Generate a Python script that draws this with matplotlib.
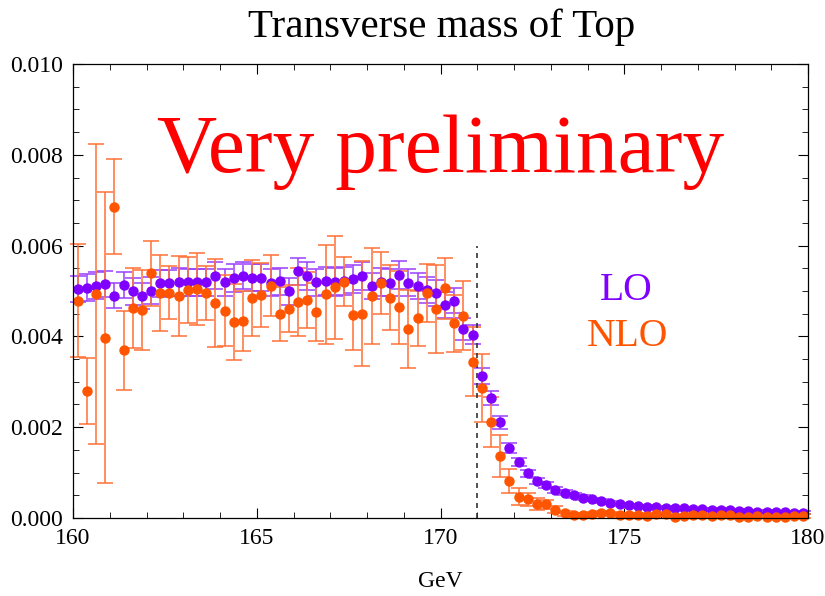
import numpy as np
import matplotlib
matplotlib.use("Agg")
import matplotlib.pyplot as plt

plt.rcParams['font.family'] = ['Liberation Serif', 'DejaVu Serif']

# bin centres, 0.25 GeV bins from 160 to 180
mass = np.arange(160.125, 180.0, 0.25)

lo = [0.00504, 0.00507, 0.00512, 0.00515, 0.00490, 0.00513, 0.00499, 0.00489, 0.00501, 0.00517,
      0.00517, 0.00520, 0.00519, 0.00519, 0.00519, 0.00534, 0.00519, 0.00529, 0.00534, 0.00529,
      0.00529, 0.00518, 0.00521, 0.00499, 0.00543, 0.00533, 0.00519, 0.00522, 0.00520, 0.00522,
      0.00526, 0.00533, 0.00511, 0.00520, 0.00518, 0.00536, 0.00518, 0.00511, 0.00502, 0.00496,
      0.00469, 0.00479, 0.00416, 0.00404, 0.00313, 0.00264, 0.00211, 0.00155, 0.00123, 0.00098,
      0.00082, 0.00073, 0.00062, 0.00056, 0.00050, 0.00045, 0.00041, 0.00037, 0.00034, 0.00030,
      0.00028, 0.00026, 0.00025, 0.00024, 0.00023, 0.00021, 0.00021, 0.00020, 0.00019, 0.00018,
      0.00018, 0.00017, 0.00016, 0.00015, 0.00014, 0.00014, 0.00013, 0.00013, 0.00012, 0.00012]

lo_err = [0.00029, 0.00030, 0.00029, 0.00029, 0.00028, 0.00029, 0.00030, 0.00029, 0.00030, 0.00030,
          0.00029, 0.00030, 0.00030, 0.00030, 0.00029, 0.00030, 0.00030, 0.00031, 0.00030, 0.00030,
          0.00030, 0.00030, 0.00030, 0.00029, 0.00030, 0.00031, 0.00030, 0.00030, 0.00030, 0.00030,
          0.00031, 0.00030, 0.00029, 0.00030, 0.00030, 0.00031, 0.00030, 0.00029, 0.00029, 0.00029,
          0.00028, 0.00028, 0.00025, 0.00020, 0.00018, 0.00016, 0.00014, 0.00011, 0.00009, 0.00008,
          0.00007, 0.00006, 0.00006, 0.00005, 0.00005, 0.00005, 0.00004, 0.00004, 0.00004, 0.00004,
          0.00003, 0.00003, 0.00003, 0.00003, 0.00003, 0.00003, 0.00003, 0.00003, 0.00003, 0.00003,
          0.00003, 0.00003, 0.00003, 0.00003, 0.00003, 0.00003, 0.00003, 0.00003, 0.00003, 0.00003]

nlo = [0.00479, 0.00280, 0.00493, 0.00397, 0.00686, 0.00369, 0.00463, 0.00458, 0.00539, 0.00495,
       0.00496, 0.00488, 0.00502, 0.00504, 0.00495, 0.00474, 0.00457, 0.00432, 0.00434, 0.00484,
       0.00491, 0.00512, 0.00449, 0.00461, 0.00476, 0.00480, 0.00454, 0.00493, 0.00508, 0.00520,
       0.00448, 0.00450, 0.00489, 0.00518, 0.00485, 0.00464, 0.00416, 0.00440, 0.00496, 0.00460,
       0.00506, 0.00429, 0.00446, 0.00344, 0.00287, 0.00212, 0.00137, 0.00081, 0.00047, 0.00041,
       0.00030, 0.00030, 0.00018, 0.00010, 0.00007, 0.00007, 0.00009, 0.00012, 0.00010, 0.00007,
       0.00007, 0.00007, 0.00005, 0.00008, 0.00009, 0.00003, 0.00005, 0.00006, 0.00007, 0.00004,
       0.00006, 0.00006, 0.00002, 0.00003, 0.00004, 0.00003, 0.00002, 0.00003, 0.00005, 0.00004]

nlo_err = [0.00125, 0.00073, 0.00330, 0.00320, 0.00105, 0.00088, 0.00088, 0.00089, 0.00072, 0.00084,
           0.00058, 0.00088, 0.00073, 0.00080, 0.00059, 0.00097, 0.00078, 0.00084, 0.00066, 0.00084,
           0.00071, 0.00068, 0.00059, 0.00052, 0.00075, 0.00061, 0.00064, 0.00109, 0.00114, 0.00054,
           0.00078, 0.00116, 0.00106, 0.00069, 0.00072, 0.00081, 0.00086, 0.00061, 0.00064, 0.00097,
           0.00067, 0.00063, 0.00077, 0.00076, 0.00075, 0.00055, 0.00046, 0.00026, 0.00018, 0.00014,
           0.00013, 0.00010, 0.00008, 0.00006, 0.00004, 0.00004, 0.00004, 0.00004, 0.00004, 0.00004,
           0.00004, 0.00004, 0.00004, 0.00004, 0.00004, 0.00004, 0.00004, 0.00004, 0.00004, 0.00004,
           0.00004, 0.00004, 0.00004, 0.00004, 0.00004, 0.00004, 0.00004, 0.00004, 0.00004, 0.00004]

top_edge = 171.0
edge_height = 0.006

purple = '#8000ff'
orange = '#ff5500'

fig = plt.figure(figsize=(8.25, 5.96), dpi=100)
ax = fig.add_axes([0.0885, 0.1309, 0.8909, 0.7617])

ax.errorbar(mass, lo, yerr=lo_err, fmt='o', color=purple, ms=6.5,
            ecolor='#9a40ff', elinewidth=1.1, capsize=5.5, capthick=1.1, clip_on=False)
ax.errorbar(mass, nlo, yerr=nlo_err, fmt='o', color=orange, ms=6.5,
            ecolor='#ff7035', elinewidth=1.1, capsize=5.5, capthick=1.1, clip_on=False)

ax.vlines(top_edge, 0, edge_height, colors='#333333', linestyles=(0, (3, 3)), lw=1.2)

ax.set_xlim(160, 180)
ax.set_ylim(0, 0.010)
ax.set_xticks([160, 165, 170, 175, 180])
ax.set_xticks(np.arange(160, 181, 1), minor=True)
ax.set_yticks([0.0, 0.002, 0.004, 0.006, 0.008, 0.010])
ax.set_yticks(np.arange(0, 0.0101, 0.0005), minor=True)
ax.set_yticklabels(['0.000', '0.002', '0.004', '0.006', '0.008', '0.010'])
ax.tick_params(which='both', direction='in', top=True, right=True, labelsize=17, pad=7)
ax.tick_params(which='major', length=7)
ax.tick_params(which='minor', length=4)
for s in ax.spines.values():
    s.set_linewidth(0.9)

ax.set_xlabel('GeV', fontsize=17, labelpad=16)
fig.text(0.535, 0.955, 'Transverse mass of Top', fontsize=29.5, ha='center', va='center')

ax.text(0.5, 0.805, 'Very preliminary', transform=ax.transAxes, color='red',
        fontsize=60, ha='center', va='center')
ax.text(0.753, 0.5, 'LO', transform=ax.transAxes, color=purple, fontsize=28.5,
        ha='center', va='center')
ax.text(0.754, 0.4, 'NLO', transform=ax.transAxes, color=orange, fontsize=28.5,
        ha='center', va='center')

fig.savefig('out.png', dpi=100)
